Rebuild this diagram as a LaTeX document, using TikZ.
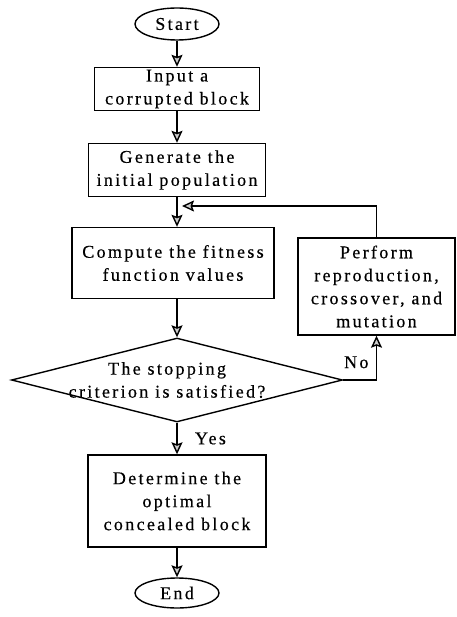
\documentclass[tikz,border=0pt]{standalone}
\usepackage{fontspec}
\setmainfont{Liberation Serif}[LetterSpace=13,FakeBold=0.4]
\usetikzlibrary{positioning,shapes.geometric,arrows.meta}

\begin{document}
\begin{tikzpicture}[x=1pt,y=-1pt,
  font=\fontsize{18}{23}\selectfont,
  box/.style={draw, line width=1.4pt, align=center, inner sep=0pt},
  term/.style={draw, ellipse, line width=1.4pt, inner sep=0pt},
  decision/.style={draw, diamond, line width=1.4pt, inner sep=0pt},
  flow/.style={line width=1.4pt, -{Stealth[length=12pt,width=11pt,inset=2pt,fill=gray!40]}}]
  \useasboundingbox (0,0) rectangle (456,617);
  % Main column
  \node[term, minimum width=84, minimum height=32] (start) at (177,24) {Start};
  \node[box, minimum width=165, minimum height=43] (input) at (177,89) {Input a\\corrupted block};
  \node[box, minimum width=177, minimum height=53] (gen) at (177,170) {Generate the\\initial population};
  \node[box, minimum width=202, minimum height=71] (compute) at (173,263) {Compute the fitness\\function values};
  \node[decision, minimum width=331, minimum height=84] (decide) at (177,380) {};
  \node[align=center, xshift=-10] (decidetxt) at (decide) {The stopping\\criterion is satisfied?};
  \node[box, minimum width=178, minimum height=92] (determine) at (177,501) {Determine the\\optimal\\concealed block};
  \node[term, minimum width=84, minimum height=30] (end) at (177,593) {End};
  % Loop back
  \node[box, minimum width=157, minimum height=97] (perform) at (376.5,286.5) {Perform\\reproduction,\\crossover, and\\mutation};
  \coordinate (merge) at (182,206);
  % Connectors
  \draw[flow] (start) -- (input);
  \draw[flow] (input) -- (gen);
  \draw[flow] (gen.south) -- (gen.south |- compute.north);
  \draw[flow] (compute.south -| decide.north) -- (decide.north);
  \draw[flow] (decide) -- node[right=14pt] {Yes} (determine);
  \draw[flow] (determine) -- (end);
  \draw[flow] (decide.east) -| node[pos=0.7, left=4pt] {No} (perform);
  \draw[flow] (perform) |- (merge);
\end{tikzpicture}
\end{document}
